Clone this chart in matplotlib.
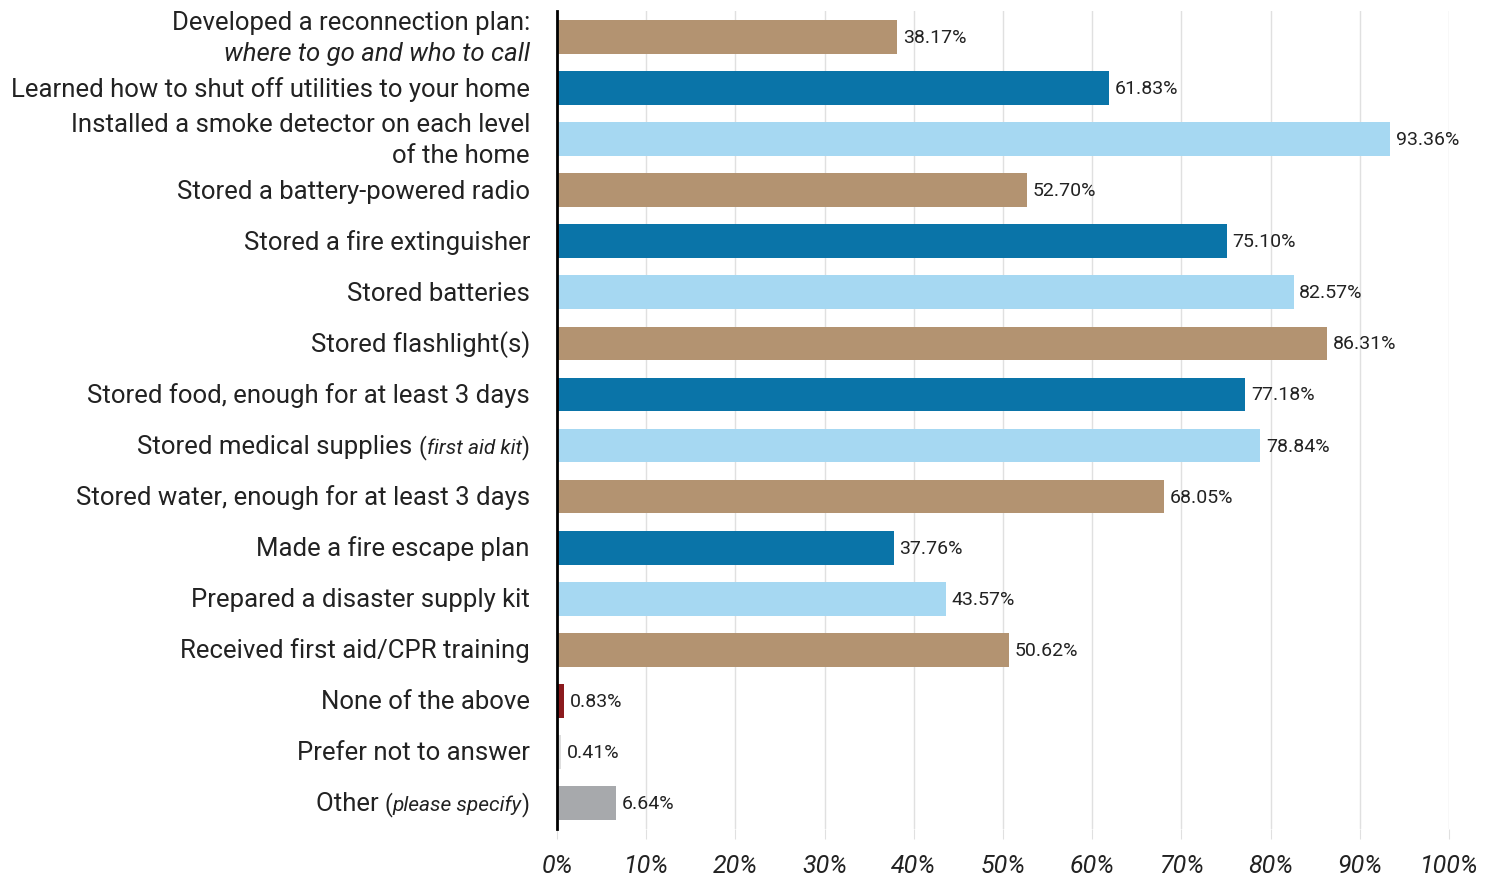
import matplotlib.pyplot as plt
from matplotlib.transforms import offset_copy, blended_transform_factory

# each label: list of lines, each line a list of (text, style) segments
# style: 'n' normal, 'i' italic, 's' small italic, 'n2' small normal
labels = [
    [[("Developed a reconnection plan:", "n")], [("where to go and who to call", "i")]],
    [[("Learned how to shut off utilities to your home", "n")]],
    [[("Installed a smoke detector on each level", "n")], [("of the home", "n")]],
    [[("Stored a battery-powered radio", "n")]],
    [[("Stored a fire extinguisher", "n")]],
    [[("Stored batteries", "n")]],
    [[("Stored flashlight(s)", "n")]],
    [[("Stored food, enough for at least 3 days", "n")]],
    [[("Stored medical supplies ", "n"), ("(", "n2"), ("first aid kit", "s"), (")", "n2")]],
    [[("Stored water, enough for at least 3 days", "n")]],
    [[("Made a fire escape plan", "n")]],
    [[("Prepared a disaster supply kit", "n")]],
    [[("Received first aid/CPR training", "n")]],
    [[("None of the above", "n")]],
    [[("Prefer not to answer", "n")]],
    [[("Other ", "n"), ("(", "n2"), ("please specify", "s"), (")", "n2")]],
]
values = [38.17, 61.83, 93.36, 52.70, 75.10, 82.57, 86.31, 77.18,
          78.84, 68.05, 37.76, 43.57, 50.62, 0.83, 0.41, 6.64]

tan = "#b39371"
dark_blue = "#0a74a8"
light_blue = "#a6d8f2"
colors = ([tan, dark_blue, light_blue] * 5)[:13] + ["#8b1a1d", "#dedede", "#a7a9ac"]

plt.rcParams['font.family'] = ['Roboto', 'DejaVu Sans']

fig = plt.figure(figsize=(14.86, 8.78), dpi=100)
ax = fig.add_axes([557 / 1486, 48 / 878, 892 / 1486, 818 / 878])

ypos = list(range(len(values)))
ax.barh(ypos, values, height=0.66, color=colors, zorder=3)
ax.set_xlim(0, 100)
ax.set_ylim(15.51, -0.51)

for y, v in zip(ypos, values):
    ax.text(v + 0.65, y, f"{v:.2f}%", va="center", ha="left", fontsize=14,
            color="#222222", zorder=4)

ax.set_xticks(range(0, 101, 10))
ax.set_xticklabels([f"{t}%" for t in range(0, 101, 10)], fontsize=18,
                   style="italic", color="#222222")
ax.tick_params(axis="x", length=7, color="#e0e0e0", pad=10)
ax.tick_params(axis="y", left=False, labelleft=False)
ax.xaxis.grid(True, color="#e0e0e0", linewidth=1, zorder=0)
for s in ["top", "right", "bottom"]:
    ax.spines[s].set_visible(False)
ax.spines["left"].set_linewidth(2)
ax.spines["left"].set_color("black")
ax.spines["left"].set_zorder(5)

# category labels built from styled pieces, right-aligned left of the axis
renderer = fig.canvas.get_renderer()
trans = blended_transform_factory(ax.transAxes, ax.transData)
sizes = {"n": 18.5, "i": 18.5, "s": 15, "n2": 16.5}
styles = {"n": "normal", "i": "italic", "s": "italic", "n2": "normal"}
line_gap = 31.5  # px
for y, lines in zip(ypos, labels):
    n = len(lines)
    for k, segs in enumerate(lines):
        dy = (k - (n - 1) / 2) * line_gap + 7.5  # px, down positive
        x_px = -27
        for text, st in reversed(segs):
            tr = offset_copy(trans, fig=fig, x=x_px, y=-dy, units="dots")
            t = ax.text(0, y, text, transform=tr, ha="right", va="baseline",
                        fontsize=sizes[st], style=styles[st], color="#222222")
            w = t.get_window_extent(renderer).width
            x_px -= w

fig.savefig("out.png", dpi=100)
